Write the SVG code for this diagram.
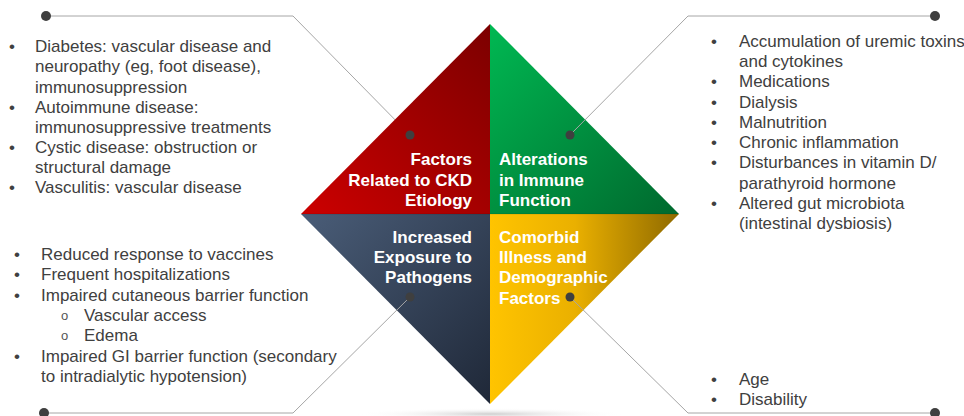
<svg xmlns="http://www.w3.org/2000/svg" width="964" height="416" viewBox="0 0 964 416">
<style>
.lst{font-family:"Liberation Sans",Arial,sans-serif;font-size:17px;fill:#404040}
.sub{font-size:13px;fill:#555555}
.lbl{font-family:"Liberation Sans",Arial,sans-serif;font-size:17px;font-weight:bold;fill:#ffffff}
.ln{stroke:#a6a6a6;stroke-width:1;fill:none}
.dot{fill:#3f3f3f}
</style>
<defs>
<linearGradient id="gRed" x1="0" y1="1" x2="1" y2="0"><stop offset="0" stop-color="#cc0000"/><stop offset="1" stop-color="#7c0000"/></linearGradient>
<linearGradient id="gGreen" x1="0" y1="0" x2="1" y2="1"><stop offset="0" stop-color="#00b852"/><stop offset="1" stop-color="#00692e"/></linearGradient>
<linearGradient id="gNavy" x1="0" y1="0" x2="1" y2="1"><stop offset="0" stop-color="#4a5d78"/><stop offset="1" stop-color="#1f2838"/></linearGradient>
<linearGradient id="gGold" x1="0" y1="0" x2="1" y2="0"><stop offset="0" stop-color="#ffc400"/><stop offset="0.45" stop-color="#eab000"/><stop offset="1" stop-color="#8f6a00"/></linearGradient>
<radialGradient id="gShadow" cx="0.5" cy="0.5" r="0.5"><stop offset="0" stop-color="#cfcfcf"/><stop offset="1" stop-color="#ffffff" stop-opacity="0"/></radialGradient>
</defs>
<rect width="964" height="416" fill="#ffffff"/>
<ellipse cx="490" cy="414" rx="135" ry="6" fill="url(#gShadow)"/>
<g id="connectors-back">
<line class="ln" x1="293" y1="16" x2="410" y2="135"/>
</g>
<g id="node-etiology">
<polygon points="490,24 490,214 301,214" fill="url(#gRed)"/>
<circle class="dot" cx="410" cy="135" r="4.5"/>
<text class="lbl" text-anchor="end"><tspan x="472" y="165">Factors</tspan><tspan x="472" y="186">Related to CKD</tspan><tspan x="472" y="206">Etiology</tspan></text>
</g>
<g id="node-immune">
<polygon points="490,24 679,214 490,214" fill="url(#gGreen)"/>
<text class="lbl"><tspan x="499" y="165">Alterations</tspan><tspan x="499" y="186">in Immune</tspan><tspan x="499" y="206">Function</tspan></text>
</g>
<g id="node-exposure">
<polygon points="301,214 490,214 490,404" fill="url(#gNavy)"/>
<text class="lbl" text-anchor="end"><tspan x="472" y="243">Increased</tspan><tspan x="472" y="263">Exposure to</tspan><tspan x="472" y="283">Pathogens</tspan></text>
</g>
<g id="node-comorbid">
<polygon points="490,214 679,214 490,404" fill="url(#gGold)"/>
<text class="lbl"><tspan x="499" y="243">Comorbid</tspan><tspan x="499" y="263">Illness and</tspan><tspan x="499" y="283">Demographic</tspan><tspan x="499" y="304">Factors</tspan></text>
</g>
<line x1="301" y1="214" x2="679" y2="214" stroke="#000" stroke-opacity="0.12" stroke-width="1"/>
<g id="connectors">
<line class="ln" x1="46" y1="16" x2="293" y2="16"/>
<circle class="dot" cx="46" cy="16" r="5"/>
<polyline class="ln" points="935,16 688,16 570,135"/>
<circle class="dot" cx="935" cy="16" r="5"/>
<circle class="dot" cx="570" cy="135" r="4.5"/>
<polyline class="ln" points="44,413 293,413 410,297"/>
<circle class="dot" cx="44" cy="413" r="5"/>
<circle class="dot" cx="410" cy="297" r="4.5"/>
<polyline class="ln" points="935,413 688,413 570,297"/>
<circle class="dot" cx="935" cy="413" r="5"/>
<circle class="dot" cx="570" cy="297" r="4.5"/>
</g>
<g id="list-etiology" class="lst">
<text x="9" y="52">•</text><text x="35" y="52">Diabetes: vascular disease and</text>
<text x="35" y="72">neuropathy (eg, foot disease),</text>
<text x="35" y="93">immunosuppression</text>
<text x="9" y="113">•</text><text x="35" y="113">Autoimmune disease:</text>
<text x="35" y="133">immunosuppressive treatments</text>
<text x="9" y="153">•</text><text x="35" y="153">Cystic disease: obstruction or</text>
<text x="35" y="173">structural damage</text>
<text x="9" y="193">•</text><text x="35" y="193">Vasculitis: vascular disease</text>
</g>
<g id="list-immune" class="lst">
<text x="711" y="47">•</text><text x="739" y="47">Accumulation of uremic toxins</text>
<text x="739" y="67">and cytokines</text>
<text x="711" y="87">•</text><text x="739" y="87">Medications</text>
<text x="711" y="108">•</text><text x="739" y="108">Dialysis</text>
<text x="711" y="128">•</text><text x="739" y="128">Malnutrition</text>
<text x="711" y="148">•</text><text x="739" y="148">Chronic inflammation</text>
<text x="711" y="168">•</text><text x="739" y="168">Disturbances in vitamin D/</text>
<text x="739" y="189">parathyroid hormone</text>
<text x="711" y="209">•</text><text x="739" y="209">Altered gut microbiota</text>
<text x="739" y="229">(intestinal dysbiosis)</text>
</g>
<g id="list-exposure" class="lst">
<text x="14" y="260">•</text><text x="41" y="260">Reduced response to vaccines</text>
<text x="14" y="280">•</text><text x="41" y="280">Frequent hospitalizations</text>
<text x="14" y="301">•</text><text x="41" y="301">Impaired cutaneous barrier function</text>
<text class="sub" x="61" y="320">o</text><text x="84" y="321">Vascular access</text>
<text class="sub" x="61" y="340">o</text><text x="84" y="341">Edema</text>
<text x="14" y="362">•</text><text x="41" y="362">Impaired GI barrier function (secondary</text>
<text x="41" y="382">to intradialytic hypotension)</text>
</g>
<g id="list-comorbid" class="lst">
<text x="711" y="385">•</text><text x="739" y="385">Age</text>
<text x="711" y="405">•</text><text x="739" y="405">Disability</text>
</g>
</svg>
